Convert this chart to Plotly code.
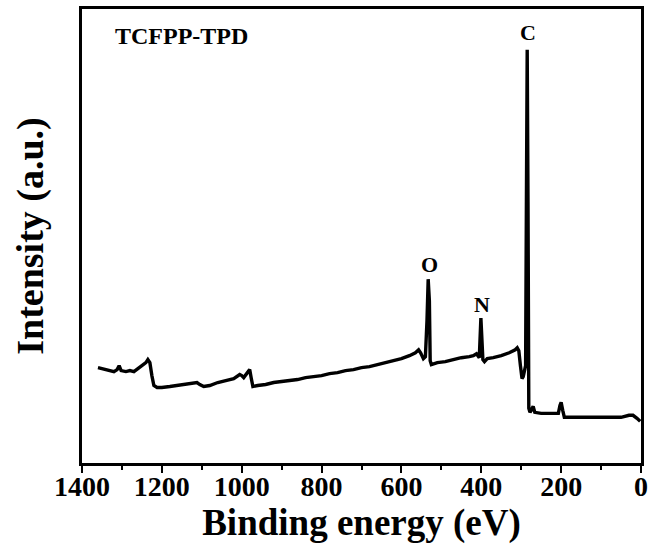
import plotly.graph_objects as go

binding_energy = [1360, 1350, 1340, 1330, 1320, 1312, 1307, 1302, 1290, 1280, 1270, 1260, 1250, 1240,
                  1235, 1230, 1225, 1220, 1212, 1200, 1180, 1160, 1140, 1120, 1112, 1105, 1095, 1080,
                  1060, 1040, 1020, 1005, 1000, 995, 985, 980, 976, 972, 960, 940, 920, 900, 880, 860,
                  840, 820, 800, 780, 760, 740, 720, 700, 680, 660, 640, 620, 600, 580, 565, 557, 552,
                  545, 540, 536, 533, 530, 528, 525, 510, 490, 470, 450, 430, 420, 412, 405, 401, 398,
                  396, 392, 385, 370, 350, 330, 315, 310, 306, 302, 298, 295, 292, 289, 287, 285, 283,
                  281, 278, 272, 270, 266, 250, 220, 207, 203, 200, 196, 192, 160, 120, 80, 50, 30, 20,
                  10, 2]
intensity = [96, 95, 94, 93, 92, 94, 98, 93, 92, 93, 92, 95, 98, 101,
             104, 101, 88, 78, 76, 76, 77, 78, 79, 80, 81, 79, 77, 78,
             81, 83, 85, 89, 88, 86, 91, 94, 85, 77, 78, 79, 81, 82, 83, 84,
             86, 87, 88, 90, 91, 93, 94, 96, 97, 99, 101, 103, 105, 108, 111, 114, 111,
             105, 107, 143, 185, 163, 103, 99, 101, 102, 104, 106, 107, 108, 110, 106, 146, 123,
             104, 102, 105, 106, 108, 111, 114, 116, 113, 98, 85, 87, 95, 98, 263, 416, 263,
             55, 51, 55, 57, 51, 50, 50, 50, 58, 61, 53, 46, 46, 46, 46, 46, 48, 48,
             45, 42]

peak_labels = ["O", "N", "C"]
peak_energy = [530, 398, 283]
peak_label_y = [200, 160, 433]

sample_name = "TCFPP-TPD"
x_title = "Binding energy (eV)"
y_title = "Intensity (a.u.)"
tick_vals = [1400, 1200, 1000, 800, 600, 400, 200, 0]

FONT = "Liberation Serif"

fig = go.Figure()
fig.add_trace(go.Scatter(x=binding_energy, y=intensity, mode="lines",
                         line=dict(color="black", width=3.4), showlegend=False))

for lab, e, yy in zip(peak_labels, peak_energy, peak_label_y):
    fig.add_annotation(x=e, y=yy, text=f"<b>{lab}</b>", showarrow=False,
                       font=dict(family=FONT, size=22, color="black"))

fig.add_annotation(xref="paper", yref="paper", x=0.055, y=0.94, xanchor="left", yanchor="middle",
                   text=f"<b>{sample_name}</b>", showarrow=False,
                   font=dict(family=FONT, size=24, color="black"))

fig.update_layout(
    width=654, height=556,
    margin=dict(l=82, r=12, t=6, b=93),
    paper_bgcolor="white", plot_bgcolor="white",
    font=dict(family=FONT, color="black"),
)
fig.update_xaxes(
    range=[1400, 0], tickvals=tick_vals, ticktext=[f"<b>{v}</b>" for v in tick_vals],
    tickfont=dict(family=FONT, size=28, color="black"),
    ticks="outside", ticklen=7, tickwidth=2, tickcolor="black", ticklabelstandoff=-10,
    minor=dict(dtick=100, ticks="outside", ticklen=4, tickwidth=2, tickcolor="black"),
    showline=True, linewidth=2.5, linecolor="black", mirror=True, showgrid=False, zeroline=False,
    title=dict(text=f"<b>{x_title}</b>", font=dict(family=FONT, size=37, color="black"), standoff=0),
)
fig.update_yaxes(
    range=[0, 457], showticklabels=False, ticks="",
    showline=True, linewidth=2.5, linecolor="black", mirror=True, showgrid=False, zeroline=False,
    title=dict(text=f"<b>{y_title}</b>", font=dict(family=FONT, size=38, color="black"), standoff=24),
)

fig.write_html("out.html", config={"displayModeBar": False},
               post_script="document.body.style.margin='0';document.body.style.overflow='hidden';")
